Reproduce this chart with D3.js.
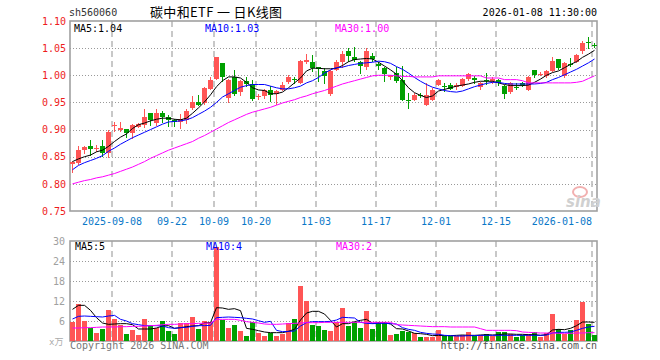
<!DOCTYPE html>
<html lang="zh">
<head>
<meta charset="UTF-8"/>
<title>碳中和ETF 日K线图</title>
<script src="https://d3js.org/d3.v7.min.js"></script>
<style>
    body { margin: 0; background: #fff; }
    text { font-family: "DejaVu Sans Mono", "Noto Sans CJK SC", monospace; font-size: 10px; }
</style>
</head>
<body>
<div id="chart"></div>
<script>
// trading days shown on the chart
const dates = [
    "2025-08-28","2025-08-29","2025-09-01","2025-09-02","2025-09-03","2025-09-04","2025-09-05",
    "2025-09-08","2025-09-09","2025-09-10","2025-09-11","2025-09-12",
    "2025-09-15","2025-09-16","2025-09-17","2025-09-18","2025-09-19",
    "2025-09-22","2025-09-23","2025-09-24","2025-09-25","2025-09-26",
    "2025-09-29","2025-09-30","2025-10-09","2025-10-10",
    "2025-10-13","2025-10-14","2025-10-15","2025-10-16","2025-10-17",
    "2025-10-20","2025-10-21","2025-10-22","2025-10-23","2025-10-24",
    "2025-10-27","2025-10-28","2025-10-29","2025-10-30","2025-10-31",
    "2025-11-03","2025-11-04","2025-11-05","2025-11-06","2025-11-07",
    "2025-11-10","2025-11-11","2025-11-12","2025-11-13","2025-11-14",
    "2025-11-17","2025-11-18","2025-11-19","2025-11-20","2025-11-21",
    "2025-11-24","2025-11-25","2025-11-26","2025-11-27","2025-11-28",
    "2025-12-01","2025-12-02","2025-12-03","2025-12-04","2025-12-05",
    "2025-12-08","2025-12-09","2025-12-10","2025-12-11","2025-12-12",
    "2025-12-15","2025-12-16","2025-12-17","2025-12-18","2025-12-19",
    "2025-12-22","2025-12-23","2025-12-24","2025-12-25","2025-12-26",
    "2025-12-29","2025-12-30","2025-12-31",
    "2026-01-05","2026-01-06","2026-01-07","2026-01-08"
];

const opens = [0.836,0.838,0.863,0.870,0.865,0.870,0.857,0.908,0.900,0.901,
    0.894,0.905,0.909,0.931,0.912,0.931,0.923,0.918,0.914,0.918,
    0.939,0.951,0.949,0.975,0.994,1.023,0.958,0.996,0.970,0.989,
    0.984,0.961,0.962,0.972,0.966,0.973,0.987,0.994,0.986,1.024,
    1.024,1.015,1.008,0.966,1.010,1.025,1.045,1.033,1.024,1.016,
    1.036,1.021,1.014,0.996,1.004,0.992,0.954,0.955,0.964,0.946,
    0.955,0.983,0.980,0.983,0.978,0.981,0.994,0.995,0.978,0.991,
    0.990,0.991,0.981,0.970,0.978,0.986,0.973,1.010,1.001,0.998,
    1.008,1.030,0.998,1.020,1.025,1.045,1.062,1.056];
const highs = [0.843,0.870,0.869,0.880,0.872,0.881,0.900,0.914,0.914,0.901,
    0.910,0.913,0.937,0.931,0.937,0.935,0.927,0.920,0.928,0.937,
    0.962,0.964,0.978,0.996,1.033,1.023,0.993,1.009,0.992,0.996,
    0.992,0.965,0.975,0.981,0.973,0.987,1.000,0.996,1.028,1.040,
    1.038,1.016,1.014,1.009,1.028,1.044,1.050,1.052,1.027,1.050,
    1.041,1.024,1.016,1.001,1.015,1.018,0.968,0.967,0.968,0.986,
    0.976,0.993,0.985,0.985,0.986,0.995,1.005,0.999,0.988,1.005,
    0.997,0.993,0.983,0.988,0.986,0.987,0.998,1.010,1.006,1.009,
    1.033,1.030,1.024,1.031,1.040,1.064,1.071,1.059];
const lows = [0.822,0.836,0.857,0.854,0.860,0.851,0.850,0.897,0.897,0.886,
    0.885,0.904,0.905,0.908,0.909,0.914,0.907,0.906,0.903,0.912,
    0.937,0.945,0.948,0.974,0.993,0.990,0.950,0.964,0.964,0.981,
    0.954,0.957,0.959,0.953,0.948,0.972,0.985,0.986,0.985,1.022,
    1.007,0.990,0.986,0.964,1.009,1.015,1.027,1.027,1.004,1.011,
    1.027,1.012,0.989,0.994,0.988,0.954,0.940,0.954,0.960,0.945,
    0.954,0.982,0.971,0.974,0.974,0.980,0.991,0.985,0.975,0.984,
    0.985,0.983,0.959,0.967,0.975,0.981,0.972,0.996,1.000,0.997,
    1.007,1.012,0.997,1.017,1.024,1.041,1.051,1.052];
const closes = [0.840,0.862,0.867,0.865,0.866,0.857,0.895,0.909,0.902,0.894,
    0.908,0.910,0.923,0.918,0.931,0.923,0.918,0.914,0.919,0.935,
    0.951,0.946,0.976,0.992,1.033,0.996,0.992,0.966,0.989,0.984,
    0.957,0.962,0.972,0.963,0.971,0.983,0.997,0.992,1.027,1.029,
    1.014,1.011,0.998,1.007,1.025,1.039,1.035,1.029,1.017,1.045,
    1.030,1.018,1.002,1.000,0.989,0.955,0.953,0.964,0.963,0.964,
    0.972,0.991,0.979,0.975,0.982,0.994,1.002,0.991,0.986,0.990,
    0.994,0.986,0.965,0.986,0.977,0.983,0.996,1.001,1.003,1.007,
    1.027,1.014,1.022,1.019,1.038,1.059,1.061,1.055];

// moving averages as drawn on the chart
const ma5 = [0.841,0.846,0.850,0.853,0.859,0.862,0.869,0.878,0.886,0.892,
    0.902,0.909,0.912,0.916,0.919,0.921,0.921,0.919,0.918,0.921,
    0.930,0.940,0.951,0.964,0.979,0.990,0.997,0.997,0.995,0.987,
    0.977,0.973,0.972,0.966,0.966,0.969,0.977,0.986,0.995,1.008,
    1.013,1.013,1.012,1.012,1.013,1.018,1.025,1.029,1.030,1.031,
    1.030,1.024,1.017,1.010,1.002,0.990,0.977,0.968,0.963,0.959,
    0.962,0.971,0.974,0.977,0.980,0.982,0.984,0.987,0.989,0.989,
    0.989,0.986,0.983,0.981,0.981,0.981,0.982,0.987,0.993,1.000,
    1.005,1.008,1.014,1.020,1.025,1.033,1.039,1.046];
const ma10 = [0.826,0.834,0.839,0.843,0.847,0.852,0.860,0.866,0.873,0.879,
    0.885,0.890,0.895,0.900,0.905,0.910,0.914,0.915,0.916,0.918,
    0.922,0.928,0.934,0.941,0.950,0.960,0.966,0.972,0.978,0.981,
    0.983,0.983,0.983,0.980,0.977,0.975,0.975,0.977,0.980,0.986,
    0.990,0.996,1.004,1.010,1.014,1.015,1.018,1.020,1.022,1.023,
    1.024,1.026,1.025,1.022,1.016,1.011,1.004,0.996,0.989,0.983,
    0.978,0.975,0.972,0.970,0.969,0.971,0.975,0.979,0.982,0.985,
    0.987,0.987,0.985,0.984,0.984,0.984,0.984,0.984,0.985,0.987,
    0.992,0.996,1.001,1.006,1.011,1.017,1.023,1.030];
const ma30 = [0.800,0.803,0.806,0.808,0.811,0.813,0.816,0.819,0.823,0.827,
    0.831,0.836,0.841,0.847,0.852,0.857,0.862,0.866,0.870,0.874,
    0.878,0.884,0.889,0.895,0.901,0.907,0.913,0.918,0.923,0.928,
    0.932,0.935,0.938,0.941,0.945,0.949,0.952,0.955,0.959,0.962,
    0.966,0.969,0.972,0.976,0.980,0.984,0.987,0.990,0.993,0.996,
    0.999,1.000,1.000,1.000,0.999,0.998,0.998,0.997,0.997,0.997,
    0.997,0.999,0.999,0.999,0.999,0.999,0.999,0.999,0.999,0.995,
    0.995,0.995,0.992,0.992,0.992,0.990,0.986,0.986,0.986,0.986,
    0.986,0.986,0.986,0.986,0.987,0.989,0.994,0.999];

// volume (x万) and its averages
const volumes = [5.6,11.2,5.9,3.9,2.3,3.5,9.2,6.5,4.8,2.0,
    3.2,1.7,6.5,4.4,3.9,5.9,2.9,2.0,5.3,5.3,
    7.1,3.5,5.9,5.6,28.1,6.2,3.8,4.7,2.9,1.4,
    5.6,2.3,1.4,2.3,1.4,2.0,5.3,6.5,16.4,12.0,
    4.7,4.4,3.2,2.9,5.6,9.8,4.4,5.6,3.8,8.9,
    3.5,5.6,5.6,1.7,2.0,2.9,2.6,2.3,1.1,1.1,
    1.1,3.2,1.4,1.4,1.4,1.7,2.6,1.4,1.7,2.0,
    1.4,2.6,2.6,2.0,1.1,1.7,2.0,2.6,1.1,2.3,
    8.0,3.5,2.0,3.2,6.2,11.6,5.0,1.7];
const volMa5 = [9.5,10.7,10.7,9.2,7.0,5.4,5.0,5.1,5.2,5.2,
    4.9,3.6,3.6,3.6,3.9,4.5,4.6,3.8,4.0,4.3,
    4.5,4.6,5.4,5.5,10.0,9.9,9.5,9.7,9.1,3.8,
    3.5,3.1,2.7,2.5,2.5,2.5,2.9,3.5,6.3,8.4,
    8.9,8.9,8.1,6.2,4.2,5.2,5.2,5.8,6.2,6.5,
    5.3,5.5,5.5,5.1,3.7,3.6,3.0,2.3,2.2,2.0,
    1.6,1.7,1.6,1.6,1.7,1.8,1.7,1.7,1.8,1.9,
    1.8,1.9,2.1,2.1,2.0,2.0,1.9,1.9,1.7,1.9,
    3.3,3.5,3.4,3.8,4.6,5.7,5.7,5.6];
const volMa10 = [6.6,7.4,7.5,7.4,7.3,7.2,7.5,7.7,6.5,6.0,
    5.2,4.9,4.6,4.6,4.6,4.5,4.0,3.8,4.0,4.1,
    4.4,4.6,4.6,4.7,7.0,7.1,7.2,7.1,7.0,6.8,
    6.6,6.1,5.6,5.9,3.2,2.8,2.9,3.0,4.5,5.5,
    5.8,5.8,5.8,5.9,6.3,7.1,7.0,6.9,5.6,5.3,
    5.2,5.3,5.3,5.2,5.1,4.0,3.5,3.2,2.6,2.3,
    2.1,2.0,1.7,1.6,1.5,1.5,1.6,1.6,1.7,1.7,
    1.7,1.7,1.7,1.7,1.7,1.7,1.7,1.7,1.7,1.8,
    2.4,2.6,2.6,2.7,3.2,3.8,4.2,4.4];
const volMa30 = [3.9,3.9,4.0,4.0,4.1,4.2,4.2,4.2,4.3,4.3,
    4.4,4.4,4.5,4.6,4.7,4.9,5.0,5.0,5.1,5.2,
    5.2,5.3,5.3,5.4,6.5,6.5,6.5,6.5,6.2,5.8,
    5.6,5.4,5.1,5.0,5.0,5.1,5.2,5.3,5.4,5.5,
    5.5,5.5,5.6,5.6,5.6,5.6,5.6,5.6,5.6,5.6,
    5.6,5.6,5.6,5.6,4.9,4.8,4.7,4.6,4.5,4.4,
    4.3,4.3,4.3,4.2,4.2,4.2,4.2,4.2,3.7,3.2,
    3.2,3.2,3.2,3.2,3.1,2.7,2.6,2.5,2.4,2.4,
    2.4,2.3,2.3,2.3,2.4,2.4,2.5,2.5];

// axis ticks and labels
const priceTicks = [0.75, 0.80, 0.85, 0.90, 0.95, 1.00, 1.05, 1.10];
const volTicks = [6, 12, 18, 24, 30];
const tickDates = ["2025-09-08","2025-09-22","2025-10-09","2025-10-20","2025-11-03",
    "2025-11-17","2025-12-01","2025-12-15","2026-01-08"];
const tickLabels = ["2025-09-08","09-22","10-09","10-20","11-03","11-17","12-01","12-15","2026-01-08"];
const priceLegend = ["MA5:1.04", "MA10:1.03", "MA30:1.00"];
const volLegend = ["MA5:5", "MA10:4", "MA30:2"];

const upColor = "#ff5555", downColor = "#00a000";
const maColors = ["#000000", "#0000ff", "#ff00ff"];
const left = 70, right = 597;
const priceTop = 21, priceBottom = 211;
const volTop = 241, volBottom = 341;

const svg = d3.select("#chart").append("svg")
    .attr("width", 660)
    .attr("height", 360);

const x = d3.scaleBand().domain(dates).range([left, right]).paddingInner(1 / 6).paddingOuter(0);
const y = d3.scaleLinear().domain([0.75, 1.10]).range([priceBottom, priceTop]);
const yv = d3.scaleLinear().domain([0, 30]).range([volBottom, volTop]);
const px = d => Math.round(x(d));

// grid: dotted horizontals, dashed verticals
svg.append("g").selectAll("line")
    .data(priceTicks.slice(1, -1))
    .join("line")
    .attr("x1", left).attr("x2", right)
    .attr("y1", d => Math.round(y(d)) + 0.5).attr("y2", d => Math.round(y(d)) + 0.5)
    .attr("stroke", "#999").attr("stroke-dasharray", "1,2");
svg.append("g").selectAll("line")
    .data(volTicks.slice(0, -1))
    .join("line")
    .attr("x1", left).attr("x2", right)
    .attr("y1", d => Math.round(yv(d)) + 0.5).attr("y2", d => Math.round(yv(d)) + 0.5)
    .attr("stroke", "#999").attr("stroke-dasharray", "1,2");
[[priceTop, priceBottom], [volTop, volBottom]].forEach(([t, b]) => {
    svg.append("g").selectAll("line")
        .data(tickDates)
        .join("line")
        .attr("x1", d => px(d)).attr("x2", d => px(d))
        .attr("y1", t).attr("y2", b)
        .attr("stroke", "#bbb").attr("stroke-width", 1.6)
        .attr("stroke-dasharray", "6,4");
});

// panel borders
[[priceTop, priceBottom], [volTop, volBottom]].forEach(([t, b]) => {
    svg.append("rect")
        .attr("x", left).attr("y", t)
        .attr("width", right - left).attr("height", b - t)
        .attr("fill", "none").attr("stroke", "#a0a0a0").attr("stroke-width", 1.6);
});

// candles
const candles = dates.map((d, i) => ({date: d, o: opens[i], h: highs[i], l: lows[i], c: closes[i], v: volumes[i]}));
const colorOf = d => d.c >= d.o ? upColor : downColor;

const cg = svg.append("g");
cg.selectAll("line")
    .data(candles)
    .join("line")
    .attr("x1", d => px(d.date) + 2.5).attr("x2", d => px(d.date) + 2.5)
    .attr("y1", d => Math.round(y(d.h))).attr("y2", d => Math.round(y(d.l)) + 1)
    .attr("stroke", colorOf);
cg.selectAll("rect")
    .data(candles)
    .join("rect")
    .attr("x", d => px(d.date))
    .attr("width", x.bandwidth())
    .attr("y", d => Math.round(y(Math.max(d.o, d.c))))
    .attr("height", d => Math.max(1, Math.round(y(Math.min(d.o, d.c))) - Math.round(y(Math.max(d.o, d.c)))))
    .attr("fill", colorOf);

// volume bars
svg.append("g").selectAll("rect")
    .data(candles)
    .join("rect")
    .attr("x", d => px(d.date))
    .attr("width", x.bandwidth())
    .attr("y", d => Math.round(yv(d.v)))
    .attr("height", d => volBottom - Math.round(yv(d.v)))
    .attr("fill", colorOf);

// moving average lines
const cx = i => px(dates[i]) + 2.5;
[ma5, ma10, ma30].forEach((arr, k) => {
    svg.append("path")
        .datum(arr)
        .attr("fill", "none")
        .attr("stroke", maColors[k])
        .attr("stroke-width", 1)
        .attr("d", d3.line().x((d, i) => cx(i)).y(d => y(d)));
});
[volMa5, volMa10, volMa30].forEach((arr, k) => {
    svg.append("path")
        .datum(arr)
        .attr("fill", "none")
        .attr("stroke", maColors[k])
        .attr("stroke-width", 1)
        .attr("d", d3.line().x((d, i) => cx(i)).y(d => yv(d)));
});

// axes
const yAxis = svg.append("g")
    .attr("transform", "translate(" + left + ",0)")
    .call(d3.axisLeft(y).tickValues(priceTicks).tickFormat(d3.format(".2f")).tickSize(0).tickPadding(4));
yAxis.select(".domain").remove();
yAxis.attr("font-family", "DejaVu Sans Mono").attr("font-size", 10);
yAxis.selectAll("text").attr("fill", "#ee1c1c");

const vAxis = svg.append("g")
    .attr("transform", "translate(" + left + ",0)")
    .call(d3.axisLeft(yv).tickValues(volTicks).tickFormat(d3.format("d")).tickSize(0).tickPadding(5));
vAxis.select(".domain").remove();
vAxis.attr("font-family", "DejaVu Sans Mono").attr("font-size", 10);
vAxis.selectAll("text").attr("fill", "#a0a0a0");

const xAxis = svg.append("g")
    .attr("transform", "translate(-2.5," + priceBottom + ")")
    .call(d3.axisBottom(x).tickValues(tickDates).tickFormat((d, i) => tickLabels[i]).tickSize(0).tickPadding(7));
xAxis.select(".domain").remove();
xAxis.attr("font-family", "DejaVu Sans Mono").attr("font-size", 10);
xAxis.selectAll("text").attr("fill", "#0a78c8")
    .filter((d, i) => i === tickDates.length - 1)
    .attr("text-anchor", "end").attr("x", 0);

// legends
const legendX = [74, 205, 335];
priceLegend.forEach((t, k) => {
    svg.append("text").attr("x", legendX[k]).attr("y", 32).attr("fill", maColors[k]).text(t);
});
volLegend.forEach((t, k) => {
    svg.append("text").attr("x", legendX[k] + 1).attr("y", 250).attr("fill", maColors[k]).text(t);
});

// header
svg.append("text").attr("x", 69).attr("y", 15.5).attr("fill", "#333").text("sh560060");
svg.append("text").attr("x", 150).attr("y", 16.5)
    .style("font-family", "'Noto Sans CJK SC', sans-serif").style("font-size", "13px")
    .style("white-space", "pre")
    .attr("textLength", 132).attr("lengthAdjust", "spacing")
    .attr("fill", "#000").text("碳中和ETF 一 日K线图");
svg.append("text").attr("x", right).attr("y", 15.5).attr("text-anchor", "end")
    .attr("fill", "#000").text("2026-01-08 11:30:00");

// footer
svg.append("text").attr("x", 49).attr("y", 345).attr("fill", "#aaa")
    .style("font-size", "9px").text("x万");
svg.append("text").attr("x", left).attr("y", 349).attr("fill", "#777").text("Copyright 2026 SINA.COM");
svg.append("text").attr("x", right).attr("y", 349).attr("text-anchor", "end")
    .attr("fill", "#555").text("http://finance.sina.com.cn");

// sina watermark
svg.append("ellipse").attr("cx", 580).attr("cy", 192).attr("rx", 7).attr("ry", 5)
    .attr("fill", "none").attr("stroke", "#f2b0b0").attr("stroke-width", 2);
svg.append("text").attr("x", 566).attr("y", 207)
    .style("font-family", "'DejaVu Sans', sans-serif").style("font-size", "15px")
    .style("font-weight", "bold").style("font-style", "italic")
    .attr("fill", "#d0d0d0").text("sina");
</script>
</body>
</html>
